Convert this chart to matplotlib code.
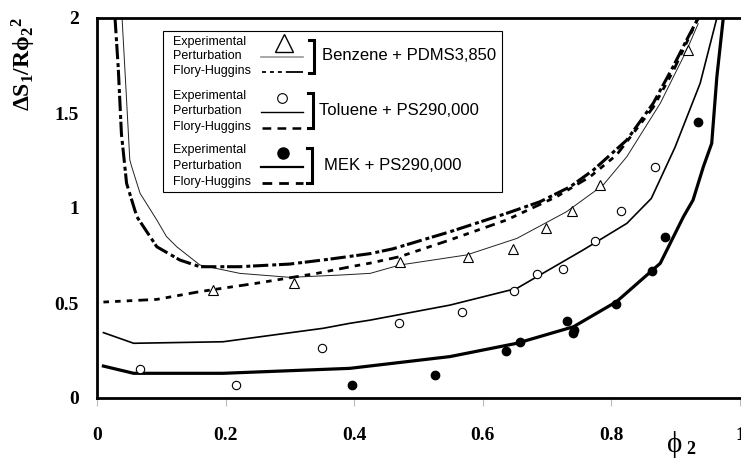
import matplotlib
matplotlib.use("Agg")
import matplotlib.pyplot as plt

# --- data ---
# experimental points
bz_exp_x = [0.181, 0.307, 0.472, 0.577, 0.647, 0.699, 0.738, 0.783, 0.919]
bz_exp_y = [0.568, 0.604, 0.717, 0.744, 0.784, 0.896, 0.984, 1.121, 1.83]
tol_exp_x = [0.067, 0.216, 0.350, 0.470, 0.568, 0.649, 0.684, 0.724, 0.775, 0.815, 0.868]
tol_exp_y = [0.154, 0.067, 0.261, 0.393, 0.453, 0.562, 0.653, 0.677, 0.828, 0.984, 1.214]
mek_exp_x = [0.397, 0.526, 0.636, 0.658, 0.731, 0.740, 0.742, 0.807, 0.863, 0.884, 0.935]
mek_exp_y = [0.067, 0.121, 0.247, 0.295, 0.404, 0.341, 0.356, 0.496, 0.670, 0.849, 1.454]

# perturbation curves
bz_pt_x = [0.039, 0.046, 0.051, 0.054, 0.067, 0.093, 0.108, 0.124, 0.16, 0.222, 0.30,
           0.378, 0.425, 0.471, 0.575, 0.653, 0.730, 0.787, 0.824, 0.876, 0.917, 0.935]
bz_pt_y = [2.0, 1.568, 1.253, 1.217, 1.077, 0.937, 0.85, 0.796, 0.70, 0.656, 0.635,
           0.647, 0.656, 0.70, 0.753, 0.84, 0.98, 1.12, 1.27, 1.551, 1.83, 1.97]
tol_pt_x = [0.01, 0.057, 0.196, 0.352, 0.393, 0.425, 0.549, 0.653, 0.756, 0.824, 0.862,
            0.899, 0.938, 0.964]
tol_pt_y = [0.344, 0.288, 0.296, 0.367, 0.393, 0.41, 0.489, 0.577, 0.779, 0.919, 1.05,
            1.32, 1.656, 2.0]
mek_pt_x = [0.01, 0.057, 0.196, 0.393, 0.549, 0.653, 0.741, 0.808, 0.876, 0.912, 0.927,
            0.943, 0.956, 0.964, 0.974]
mek_pt_y = [0.168, 0.13, 0.13, 0.156, 0.218, 0.288, 0.375, 0.507, 0.709, 0.954, 1.042,
            1.217, 1.34, 1.69, 2.0]

# Flory-Huggins curves (toluene and MEK with PS290,000 fall on the same curve)
ps_fh_x = [0.028, 0.033, 0.038, 0.046, 0.062, 0.093, 0.129, 0.16, 0.222, 0.30, 0.36,
           0.425, 0.46, 0.549, 0.637, 0.689, 0.736, 0.772, 0.824, 0.865, 0.896, 0.917, 0.935]
ps_fh_y = [2.0, 1.74, 1.39, 1.13, 0.954, 0.796, 0.726, 0.691, 0.691, 0.705, 0.73,
           0.76, 0.785, 0.875, 0.972, 1.033, 1.112, 1.2, 1.358, 1.551, 1.744, 1.884, 2.0]
bz_fh_x = [0.01, 0.093, 0.16, 0.248, 0.342, 0.393, 0.425, 0.471, 0.549, 0.637, 0.715,
           0.767, 0.808, 0.865, 0.896, 0.935]
bz_fh_y = [0.505, 0.519, 0.56, 0.604, 0.656, 0.69, 0.71, 0.744, 0.832, 0.937, 1.06,
           1.165, 1.279, 1.53, 1.72, 2.0]

x_ticks = [0, 0.2, 0.4, 0.6, 0.8, 1]
x_tick_labels = ["0", "0.2", "0.4", "0.6", "0.8", "1"]
y_ticks = [0, 0.5, 1, 1.5, 2]
y_tick_labels = ["0", "0.5", "1", "1.5", "2"]

systems = ["Benzene + PDMS3,850", "Toluene + PS290,000", "MEK + PS290,000"]
legend_rows = ["Experimental", "Perturbation", "Flory-Huggins"]

plt.rcParams["mathtext.fontset"] = "custom"
plt.rcParams["mathtext.rm"] = "Liberation Serif:bold"
plt.rcParams["mathtext.it"] = "Liberation Serif:bold"
plt.rcParams["mathtext.bf"] = "Liberation Serif:bold"

W, H = 741, 459


def fx(px):
    return px / W


def fy(py):
    return 1 - py / H


fig = plt.figure(figsize=(W / 100, H / 100), dpi=100)
ax = fig.add_axes([fx(97), fy(398), fx(740) - fx(97), fy(18) - fy(398)])

# curves
ax.plot(bz_pt_x, bz_pt_y, color="#222222", lw=0.7)
ax.plot(tol_pt_x, tol_pt_y, color="black", lw=1.2)
ax.plot(mek_pt_x, mek_pt_y, color="black", lw=2.3)
ax.plot(bz_fh_x, bz_fh_y, color="black", lw=2.0, linestyle=(0, (2, 2.2, 2, 2.2, 2, 2.2, 3.5, 2.2)))
ax.plot(ps_fh_x, ps_fh_y, color="black", lw=2.2, linestyle=(0, (5, 3.5)))
ax.plot(ps_fh_x, ps_fh_y, color="black", lw=2.2, linestyle=(2.2, (1.3, 7.2)))

# experimental points
ax.plot(bz_exp_x, bz_exp_y, "^", ms=6.5, mfc="white", mec="black", mew=0.8, zorder=5)
ax.plot(tol_exp_x, tol_exp_y, "o", ms=6, mfc="white", mec="black", mew=0.8, zorder=5)
ax.plot(mek_exp_x, mek_exp_y, "o", ms=6, mfc="black", mec="black", zorder=5)

ax.set_xlim(0, 1)
ax.set_ylim(0, 2)
ax.set_xticks(x_ticks)
ax.set_xticklabels(x_tick_labels)
ax.set_yticks(y_ticks)
ax.set_yticklabels(y_tick_labels)
for lab in ax.get_xticklabels() + ax.get_yticklabels():
    lab.set_fontfamily("Liberation Serif")
    lab.set_fontweight("bold")
    lab.set_fontsize(14)
ax.tick_params(axis="x", direction="out", length=6, width=0.8, color="#bbbbbb", pad=15)
ax.tick_params(axis="y", length=0, pad=13)
for side in ["left", "bottom", "top"]:
    ax.spines[side].set_linewidth(2.0)
ax.spines["right"].set_visible(False)

# axis labels
fig.text(fx(24), fy(64), r"$\mathrm{\Delta S_1/R\phi_2{}^2}$", rotation=90,
         ha="center", va="center", fontsize=17)
fig.text(fx(675), fy(445), "\u03d5", family=["Liberation Serif", "DejaVu Serif"],
         fontsize=21, ha="center", va="center")
fig.text(fx(691), fy(449), "2", family="Liberation Serif", fontweight="bold",
         fontsize=13, ha="center", va="center")

# hand-made legend box, drawn in pixel coordinates
lg = fig.add_axes([0, 0, 1, 1])
lg.set_xlim(0, W)
lg.set_ylim(H, 0)
lg.axis("off")
lg.add_patch(plt.Rectangle((163, 31), 502 - 163, 192 - 31, fill=True, facecolor="white",
                           edgecolor="black", lw=0.8))

row_y = [[41.7, 55.7, 71.0], [96.0, 110.7, 126.7], [150.0, 165.7, 181.7]]
bracket = [(313.5, 40, 73.3), (312.7, 92.7, 128.3), (311.7, 148.3, 183.3)]
name_x = [321.7, 319.3, 324.0]
pt_lw = [1.2, 1.0, 1.6]
pt_col = ["#999999", "black", "black"]
fh_style = [(0, (2.2, 2.2, 2.2, 2.2, 2.2, 2.2, 9, 0)), (0, (3.5, 2.5)), (0, (3.5, 2.5))]
fh_lw = [1.3, 1.8, 2.0]

for i in range(3):
    ys = row_y[i]
    for j in range(3):
        lg.text(173.3, ys[j], legend_rows[j], fontsize=9, family="Liberation Sans",
                ha="left", va="center")
    if i == 0:
        lg.plot([284], [ys[0] + 1.5], "^", ms=13, mfc="white", mec="black", mew=1.0)
    elif i == 1:
        lg.plot([282], [ys[0] + 1.5], "o", ms=7, mfc="white", mec="black", mew=0.8)
    else:
        lg.plot([283], [ys[0] + 3], "o", ms=8, mfc="black", mec="black")
    lg.plot([261, 303], [ys[1] + 1, ys[1] + 1], color=pt_col[i], lw=pt_lw[i])
    lg.plot([262, 303], [ys[2] + 1, ys[2] + 1], color="black", lw=fh_lw[i], linestyle=fh_style[i])
    bx, bt, bb = bracket[i]
    lg.plot([bx - 5, bx, bx, bx - 5], [bt, bt, bb, bb], color="black", lw=2.2,
            solid_joinstyle="miter")
    lg.text(name_x[i], ys[1], systems[i], fontsize=12, family="Liberation Sans",
            ha="left", va="center")

fig.savefig("out.png", dpi=100)
